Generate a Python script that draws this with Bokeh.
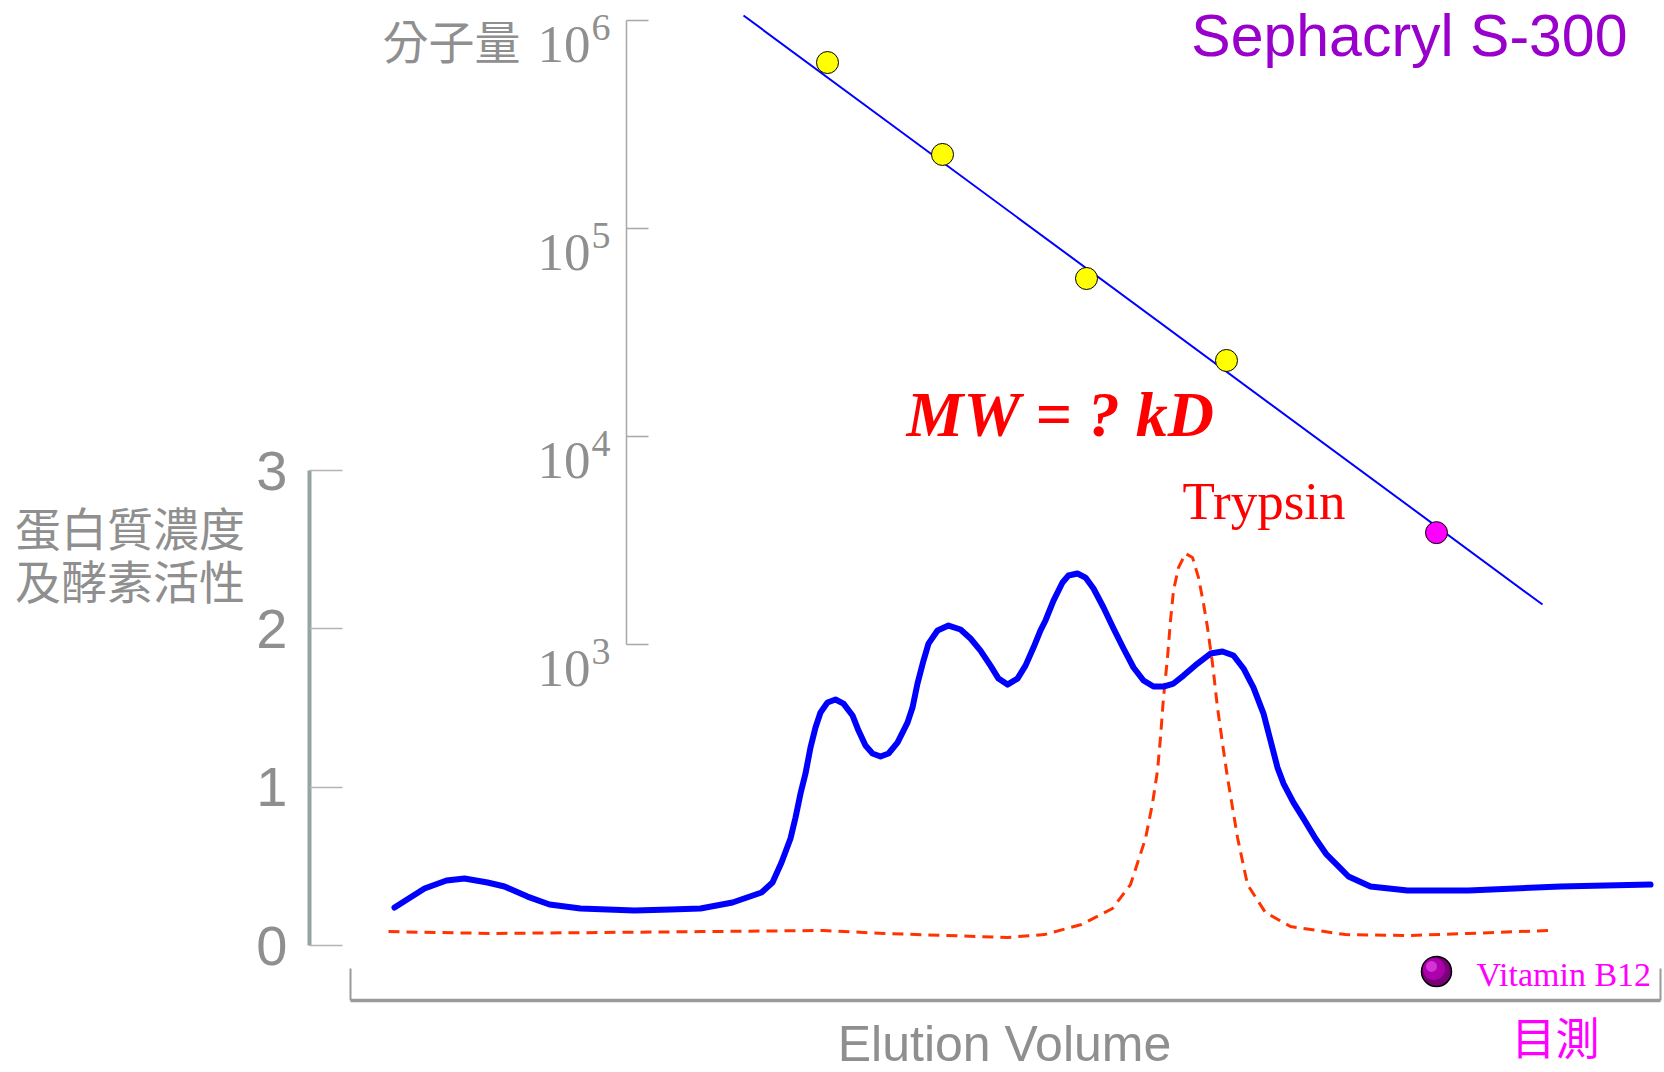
from bokeh.plotting import figure
from bokeh.models import Range1d, LogScale, FixedTicker, Label, LogAxis
from bokeh.core.properties import value
from bokeh.embed import file_html
from bokeh.resources import INLINE

# ---------------- data ----------------
# elution profile (lower chart): elution volume vs protein concentration
elution_x = [4.4, 7.4, 9.6, 11.4, 13.7, 15.4, 17.7, 19.9, 23.0, 28.4, 32.0, 35.0,
             38.2, 41.1, 42.2, 43.1, 44.0, 44.5, 45.0, 45.5, 46.0, 46.5, 47.0,
             47.7, 48.5, 49.3, 50.2, 50.8, 51.5, 52.2, 53.0, 53.8, 54.7, 55.7,
             56.2, 56.7, 57.3, 57.8, 58.7, 59.8, 61.0, 62.0, 63.0, 64.0, 64.8,
             65.7, 66.7, 67.5, 68.3, 69.0, 69.5, 70.3, 71.2, 71.8, 72.7, 73.5,
             74.3, 75.3, 76.3, 77.3, 78.3, 79.3, 80.3, 81.3, 82.3, 83.3, 84.7,
             86.0, 87.2, 88.3, 89.3, 90.3, 91.3, 92.0, 92.7, 93.3, 94.3, 95.3,
             96.5, 97.6, 98.9, 99.8, 102.0, 105.7, 111.8, 121.0, 130.0]
protein = [0.240, 0.360, 0.411, 0.423, 0.398, 0.373, 0.309, 0.259, 0.234, 0.221,
           0.227, 0.234, 0.272, 0.335, 0.398, 0.524, 0.676, 0.808, 0.960, 1.086,
           1.251, 1.377, 1.472, 1.535, 1.554, 1.528, 1.453, 1.358, 1.263, 1.213,
           1.194, 1.213, 1.282, 1.408, 1.503, 1.655, 1.800, 1.907, 1.990, 2.021,
           1.996, 1.939, 1.863, 1.768, 1.686, 1.648, 1.686, 1.768, 1.882, 1.990,
           2.053, 2.179, 2.293, 2.337, 2.350, 2.324, 2.255, 2.135, 2.002, 1.876,
           1.756, 1.674, 1.636, 1.636, 1.655, 1.705, 1.781, 1.844, 1.857, 1.832,
           1.750, 1.629, 1.465, 1.295, 1.124, 1.023, 0.903, 0.802, 0.676, 0.575,
           0.493, 0.436, 0.373, 0.347, 0.347, 0.373, 0.385]

# enzyme activity (trypsin), dashed
activity_x = [3.8, 14.1, 35.0, 47.3, 53.4, 65.7, 69.4, 73.1, 76.2, 78.0, 79.5,
              80.2, 80.7, 81.0, 81.3, 81.7, 82.0, 82.3, 82.8, 83.5, 84.2, 84.8,
              85.3, 85.7, 86.2, 86.7, 87.2, 87.7, 88.2, 88.7, 89.7, 91.5, 94.0,
              99.5, 105.7, 111.8, 119.8]
activity = [0.088, 0.076, 0.088, 0.095, 0.076, 0.051, 0.069, 0.133, 0.234, 0.385,
            0.676, 0.897, 1.105, 1.314, 1.566, 1.819, 2.053, 2.242, 2.387, 2.476,
            2.451, 2.324, 2.160, 2.008, 1.781, 1.503, 1.276, 1.061, 0.872, 0.682,
            0.385, 0.208, 0.120, 0.069, 0.063, 0.076, 0.095]

# calibration (upper chart): elution volume vs molecular weight
std_x = [47.7, 59.2, 73.6, 87.6]
std_mw = [628000, 227000, 57500, 23200]
vb12_x = [108.6]
vb12_mw = [3450]
fit_x = [39.3, 119.2]
fit_mw = [1057000, 1556]

conc_ticks = [0, 1, 2, 3]
mw_ticks = [1e3, 1e4, 1e5, 1e6]
mw_exponents = ["3", "4", "5", "6"]
elution_ends = [0, 131.0]

GREY = "#8f8f8f"
AXIS_GREY = "#9a9a9a"

# ---------------- figure ----------------
p = figure(width=1664, height=1072, output_backend="svg", toolbar_location=None,
           x_range=Range1d(-35.0, 131.4), y_range=Range1d(-0.802, 5.969),
           min_border_left=0, min_border_right=0, min_border_top=0,
           min_border_bottom=0)
p.outline_line_color = None
p.xgrid.visible = False
p.ygrid.visible = False
p.extra_y_ranges = {"mw": Range1d(10 ** 0.9423, 10 ** 6.0962)}
p.extra_y_scales = {"mw": LogScale()}

# lower-left concentration axis
yax = p.yaxis[0]
yax.fixed_location = -4.1
yax.ticker = FixedTicker(ticks=conc_ticks)
yax.bounds = (0, 3)
yax.axis_line_color = "#94a2a2"
yax.axis_line_width = 4
yax.major_tick_in = 33
yax.major_tick_out = 0
yax.major_tick_line_color = "#b4b4b4"
yax.major_tick_line_width = 1.5
yax.minor_tick_line_color = None
yax.major_label_text_font = "Liberation Sans"
yax.major_label_text_font_size = "56px"
yax.major_label_text_color = GREY
yax.major_label_standoff = 22

# elution volume axis
xax = p.xaxis[0]
xax.fixed_location = -0.347
xax.ticker = FixedTicker(ticks=elution_ends)
xax.bounds = (elution_ends[0], elution_ends[1])
xax.major_label_overrides = {elution_ends[0]: "", elution_ends[1]: ""}
xax.axis_line_color = AXIS_GREY
xax.axis_line_width = 3.5
xax.major_tick_in = 32
xax.major_tick_out = 0
xax.major_tick_line_color = AXIS_GREY
xax.major_tick_line_width = 2
xax.minor_tick_line_color = None

# molecular weight axis (log), inside the drawing
mwax = LogAxis(y_range_name="mw", fixed_location=27.6)
mwax.ticker = FixedTicker(ticks=mw_ticks)
mwax.bounds = (mw_ticks[0], mw_ticks[-1])
mwax.major_label_overrides = {t: "" for t in mw_ticks}
mwax.axis_line_color = "#a8a8a8"
mwax.axis_line_width = 1.5
mwax.major_tick_in = 22
mwax.major_tick_out = 0
mwax.major_tick_line_color = "#a8a8a8"
mwax.major_tick_line_width = 1.5
mwax.minor_tick_line_color = None
p.add_layout(mwax, "left")

p.text(x=[24.0] * len(mw_ticks), y=[t * 10 ** -0.1154 for t in mw_ticks],
       text=["10"] * len(mw_ticks), y_range_name="mw",
       text_font=value("Liberation Serif"), text_font_size=value("53px"),
       text_color=GREY, text_align="right", text_baseline="middle")
p.text(x=[24.1] * len(mw_ticks), y=[t * 10 ** -0.0337 for t in mw_ticks],
       text=mw_exponents, y_range_name="mw",
       text_font=value("Liberation Serif"), text_font_size=value("38px"),
       text_color=GREY, text_align="left", text_baseline="middle")

# curves
p.line(activity_x, activity, line_color="#ff3300", line_width=3, line_dash="11 7")
p.line(elution_x, protein, line_color="#0000ff", line_width=6, line_join="round",
       line_cap="round")

# calibration line and standards
p.line(fit_x, fit_mw, y_range_name="mw", line_color="#0000ff", line_width=2)
p.scatter(std_x, std_mw, y_range_name="mw", size=22, fill_color="#ffff00",
          line_color="black", line_width=1)
p.scatter(vb12_x, vb12_mw, y_range_name="mw", size=22, fill_color="#ff00ff",
          line_color="black", line_width=1)

# Vitamin B12 marker ball on the elution axis
ball_y = -0.164
p.scatter(vb12_x, [ball_y], size=30, fill_color="#7a007a", line_color="black",
          line_width=1.5)
p.scatter([vb12_x[0] - 0.25], [ball_y + 0.016], size=22, fill_color="#b000b0",
          line_color=None, fill_alpha=0.9)
p.scatter([vb12_x[0] - 0.5], [ball_y + 0.032], size=11, fill_color="#e040e0",
          line_color=None, fill_alpha=0.8)

# ---------------- texts ----------------
def add_label(x, y, text, font, size, color, align="left", style="normal"):
    p.add_layout(Label(x=x, y=y, text=text, text_font=font, text_font_size=size,
                       text_color=color, text_align=align, text_baseline="middle",
                       text_font_style=style))

add_label(10.1, 5.728, "分子量", "Noto Sans CJK TC", "46px", GREY, "center")
add_label(-22.05, 2.652, "蛋白質濃度", "Noto Sans CJK TC", "46px", GREY, "center")
add_label(-22.05, 2.318, "及酵素活性", "Noto Sans CJK TC", "46px", GREY, "center")
add_label(127.7, 5.747, "Sephacryl S-300", "Liberation Sans", "59px", "#9900cc", "right")
add_label(55.6, 3.357, "MW = ? kD", "Liberation Serif", "64px", "#ff0000", "left",
          "bold italic")
add_label(83.2, 2.807, "Trypsin", "Liberation Serif", "53px", "#ff0000")
add_label(112.6, -0.183, "Vitamin B12", "Liberation Serif", "34px", "#ff00ff")
add_label(65.4, -0.619, "Elution Volume", "Liberation Sans", "50px", GREY, "center")
add_label(120.5, -0.574, "目測", "Noto Sans CJK TC", "44px", "#ff00ff", "center")

open("out.html", "w").write(file_html(p, INLINE))
